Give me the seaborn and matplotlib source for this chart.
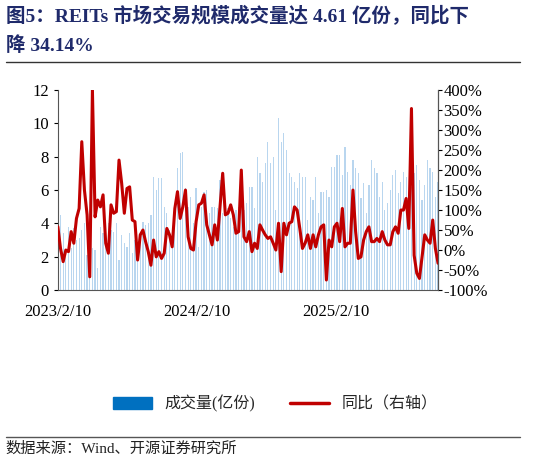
import numpy as np
import pandas as pd
import matplotlib
matplotlib.use("Agg")
import matplotlib.pyplot as plt
import matplotlib.patches as mpatches
from matplotlib.lines import Line2D
from matplotlib.ticker import FuncFormatter
import seaborn as sns

# weekly REITs volume (亿份) and YoY (%)
volume = [
    3.6, 4.5, 3.4, 2.0, 3.8, 2.5, 3.7, 3.0, 3.1, 3.6, 4.0, 2.1, 2.4, 2.5, 2.4, 1.3, 3.8, 3.4, 3.4, 4.0, 3.6,
    3.5, 4.0, 1.8, 3.3, 2.8, 2.6, 3.4, 2.2, 3.0, 2.7, 3.4, 4.1, 3.9, 4.0, 4.5, 6.8, 6.0, 6.7, 6.7, 5.0, 4.6, 3.6, 3.2, 4.4, 7.3,
    8.2, 8.3, 6.1, 5.0, 5.6, 4.0, 6.1, 2.6, 5.0, 5.9, 6.0, 4.6, 5.0, 5.0, 4.9, 6.6, 4.6, 5.0, 4.9, 4.3, 3.8, 4.8, 5.0, 4.9, 4.8,
    5.2, 6.2, 6.2, 4.9, 8.0, 7.0, 6.5, 7.6, 8.9, 7.6, 8.0, 4.8, 10.3, 8.9, 9.4, 8.4, 7.0, 6.8, 6.5, 6.1, 7.0, 6.8, 6.8, 4.2, 5.6,
    5.4, 6.8, 4.6, 5.9, 5.9, 6.0, 5.6, 7.4, 7.4, 8.1, 8.1, 6.9, 8.6, 7.1, 6.3, 7.8, 7.3, 7.0, 5.5, 6.4, 4.6, 6.3, 7.8, 7.3, 7.0,
    5.6, 6.5, 4.8, 5.2, 6.0, 6.9, 7.2, 5.8, 6.5, 7.1, 6.8, 5.9, 6.2, 7.0, 7.5, 6.6, 5.4, 6.3, 7.8, 7.3, 7.1, 5.6, 6.5,
]
yoy = [
    58, 4, -29, 0, -4, 46, 17, 79, 104, 271,
    150, 88, -67, 400, 83, 125, 108, 138, 17, -8,
    113, 92, 96, 225, 167, 92, 154, 158, 75, 71,
    -25, 38, 50, 21, -4, -38, 25, -17, -4, -21,
    -8, 54, 38, 8, 104, 146, 79, 108, 150, 33,
    4, 0, 71, 113, 117, 138, 63, 38, 13, 63,
    25, 108, 192, 88, 92, 113, 88, 42, 46, 200,
    33, 21, 46, -4, 17, 4, 63, 50, 38, 29,
    33, 17, 0, 67, -54, 67, 38, 67, 71, 108,
    100, 54, 4, 17, 38, 4, 38, 8, 38, 58,
    63, -75, 25, 8, 58, 67, 21, 104, 8, 17,
    17, 150, 46, -21, -17, 25, 46, 58, 21, 21,
    29, 21, 46, 25, 13, 13, 46, 58, 42, 100,
    100, 129, 54, 354, -13, -58, -71, -17, 38, 25,
    17, 75, 4, -33,
]
tick_dates = ["2023-02-10", "2024-02-10", "2025-02-10"]
tick_labels = ["2023/2/10", "2024/2/10", "2025/2/10"]

dates = pd.date_range("2023-02-10", periods=len(yoy), freq="7D")
df = pd.DataFrame({"date": dates, "volume": volume, "yoy": yoy})

sns.set_style("white")
plt.rcParams["font.family"] = ["Liberation Serif", "Noto Sans CJK SC"]

fig = plt.figure(figsize=(5.51, 4.67), dpi=100)
ax = fig.add_axes([0.105, 0.379, 0.69, 0.428])
ax2 = ax.twinx()

ax.bar(df["date"], df["volume"], width=3.2, color="#B9D6EF", linewidth=0)
sns.lineplot(data=df, x="date", y="yoy", ax=ax2, color="#C00000", lw=2.2)

ax.set_ylim(0, 12)
ax.set_yticks(range(0, 13, 2))
ax2.set_ylim(-100, 400)
ax2.set_yticks(range(-100, 401, 50))
ax2.yaxis.set_major_formatter(FuncFormatter(lambda v, _: f"{v:.0f}%"))
ax.set_xlim(dates[0], dates[-1])
ax.set_xticks(pd.to_datetime(tick_dates))
ax.set_xticklabels(tick_labels)
ax2.set_xlabel("")
ax2.set_ylabel("")

for a in (ax, ax2):
    a.spines["top"].set_visible(False)
    a.tick_params(labelsize=12, colors="black", length=3, direction="out")
ax.spines["left"].set_color("#555555")
ax.spines["bottom"].set_color("#555555")
ax2.spines["right"].set_color("#555555")
ax2.spines["left"].set_visible(False)
ax2.spines["bottom"].set_visible(False)
ax.tick_params(axis="x", length=4, pad=6)
ax.tick_params(axis="y", left=True)
ax2.tick_params(axis="y", right=True, pad=1)

# legend
handles = [mpatches.Patch(color="#0070C0", label="成交量(亿份)"),
           Line2D([0], [0], color="#C00000", lw=2.5, label="同比（右轴）")]
fig.legend(handles=handles, loc="center", bbox_to_anchor=(0.5, 0.135), ncol=2,
           frameon=False, fontsize=11.5, handlelength=2.4, columnspacing=2.2)

# title & source
fig.text(0.01, 0.987, "图5：REITs 市场交易规模成交量达 4.61 亿份，同比下", fontsize=14,
         fontweight="bold", color="#1F2A6B", va="top")
fig.text(0.01, 0.922, "降 34.14%", fontsize=14, fontweight="bold", color="#1F2A6B", va="top")
fig.add_artist(Line2D([0.01, 0.943], [0.868, 0.868], color="#333333", lw=1))
fig.add_artist(Line2D([0.01, 0.943], [0.064, 0.064], color="#555555", lw=1))
fig.text(0.01, 0.055, "数据来源：Wind、开源证券研究所", fontsize=11, va="top", color="#222222")

fig.savefig("out.png", dpi=100)
